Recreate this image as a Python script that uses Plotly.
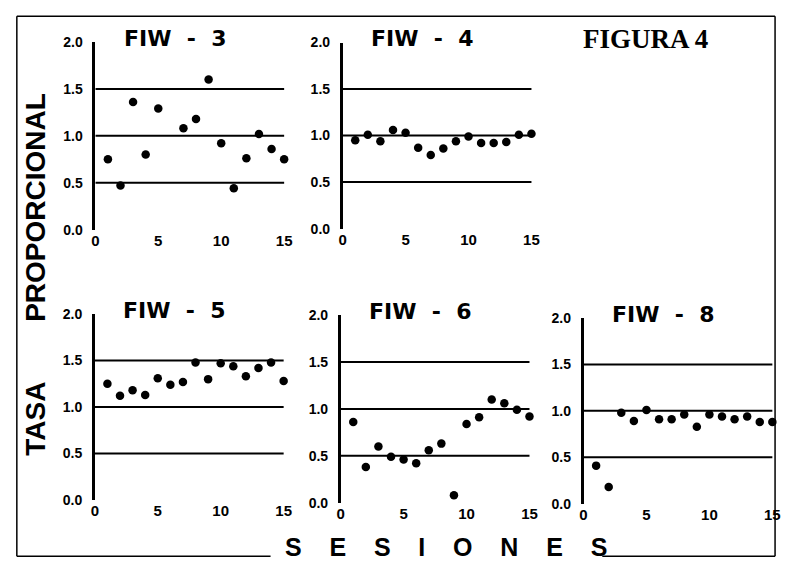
import plotly.graph_objects as go

W, H = 786, 570

# ---------------- data ----------------
panel_titles = ["FIW - 3", "FIW - 4", "FIW - 5", "FIW - 6", "FIW - 8"]

fiw3_x = [1, 2, 3, 4, 5, 7, 8, 9, 10, 11, 12, 13, 14, 15]
fiw3_y = [0.75, 0.47, 1.36, 0.80, 1.29, 1.08, 1.18, 1.60, 0.92, 0.44, 0.76, 1.02, 0.86, 0.75]

fiw4_x = list(range(1, 16))
fiw4_y = [0.95, 1.01, 0.94, 1.06, 1.03, 0.87, 0.79, 0.86, 0.94, 0.99, 0.92, 0.92, 0.93, 1.01, 1.02]

fiw5_x = list(range(1, 16))
fiw5_y = [1.25, 1.12, 1.18, 1.13, 1.31, 1.24, 1.27, 1.48, 1.30, 1.47, 1.44, 1.33, 1.42, 1.48, 1.28]

fiw6_x = list(range(1, 16))
fiw6_y = [0.86, 0.38, 0.60, 0.49, 0.46, 0.42, 0.56, 0.63, 0.08, 0.84, 0.91, 1.10, 1.06, 0.99, 0.92]

fiw8_x = list(range(1, 16))
fiw8_y = [0.41, 0.18, 0.98, 0.89, 1.01, 0.91, 0.91, 0.96, 0.83, 0.96, 0.94, 0.91, 0.94, 0.88, 0.88]

reference_levels = [0.5, 1.0, 1.5]
ref_x_start, ref_x_end = 0, 15

y_tickvals = [0.0, 0.5, 1.0, 1.5, 2.0]
y_ticktext = ["0.0", "0.5", "1.0", "1.5", "2.0"]
x_tickvals = [0, 5, 10, 15]
x_ticktext = ["0", "5", "10", "15"]

series_x = [fiw3_x, fiw4_x, fiw5_x, fiw6_x, fiw8_x]
series_y = [fiw3_y, fiw4_y, fiw5_y, fiw6_y, fiw8_y]

# ---------------- layout geometry (pixels) ----------------
XR = 15.2
PXU = 12.75
boxes = [
    (92.5, 35, 228),
    (343, 35.5, 227),
    (92, 315, 506),
    (341, 316, 509),
    (587, 319, 510),
]

def px(x):
    return x / W

def py(y):
    return 1 - y / H

FONT = "Liberation Sans"
TFONT = "DejaVu Sans"
fig = go.Figure()
layout = dict(
    width=W, height=H,
    margin=dict(l=0, r=0, t=0, b=0),
    paper_bgcolor="white", plot_bgcolor="white",
    showlegend=False,
)
shapes = []
annotations = []

for i, (x0, ytop, ybot) in enumerate(boxes):
    n = "" if i == 0 else str(i + 1)
    xa, ya = "x" + n, "y" + n
    xk, yk = "xaxis" + n, "yaxis" + n
    layout[xk] = dict(
        domain=[px(x0), min(1.0, px(x0 + XR * PXU))],
        range=[0, XR], anchor=ya,
        showline=False, showgrid=False, zeroline=False, ticks="",
        tickvals=x_tickvals, ticktext=x_ticktext,
        tickfont=dict(family=FONT, size=15, color="black", weight="bold"),
    )
    layout[yk] = dict(
        domain=[py(ybot), py(ytop)],
        range=[0, 2.0], anchor=xa,
        showline=True, linecolor="black", linewidth=2.5,
        showgrid=False, zeroline=False, ticks="",
        tickvals=y_tickvals, ticktext=y_ticktext,
        ticklabelstandoff=7,
        tickfont=dict(family=FONT, size=14, color="black", weight="bold"),
    )
    for lv in reference_levels:
        shapes.append(dict(type="line", xref=xa, yref=ya,
                           x0=ref_x_start, x1=ref_x_end, y0=lv, y1=lv,
                           line=dict(color="black", width=2)))
    fig.add_trace(go.Scatter(
        x=series_x[i], y=series_y[i], mode="markers",
        marker=dict(color="black", size=8.5),
        xaxis=xa, yaxis=ya, cliponaxis=False, hoverinfo="skip",
    ))
    title = panel_titles[i].replace(" - ", " \u00a0-\u00a0 ")
    annotations.append(dict(
        text="<b>" + title + "</b>", xref="paper", yref="paper",
        x=px(x0 + 81), y=py(ytop - 4), xanchor="center", yanchor="middle",
        showarrow=False, font=dict(family=TFONT, size=22, color="black"),
    ))

# figure labels
annotations.append(dict(
    text="<b>FIGURA 4</b>", xref="paper", yref="paper",
    x=px(650), y=py(32), xanchor="center", yanchor="middle", showarrow=False,
    font=dict(family="Liberation Serif", size=27, color="black"),
))
annotations.append(dict(
    text="<b>PROPORCIONAL</b>",
    xref="paper", yref="paper", x=px(32), y=py(205), xanchor="center", yanchor="middle",
    textangle=-90, showarrow=False,
    font=dict(family=FONT, size=28, color="black"),
))
annotations.append(dict(
    text="<b>TASA</b>",
    xref="paper", yref="paper", x=px(32), y=py(423), xanchor="center", yanchor="middle",
    textangle=-90, showarrow=False,
    font=dict(family=FONT, size=28, color="black"),
))
sp = "\u00a0" * 4
annotations.append(dict(
    text="<b>" + sp.join(list("SESIONES")) + "</b>",
    xref="paper", yref="paper", x=px(448), y=py(555), xanchor="center", yanchor="middle",
    showarrow=False, font=dict(family=FONT, size=25, color="black"),
))

# frame
fl = dict(color="black", width=1.5)
for (a, b, c, d) in [(13, 8.5, 781, 8.5), (13, 8.5, 13, 564), (781, 8.5, 781, 564),
                     (13, 564, 270, 564), (606, 564, 781, 564)]:
    shapes.append(dict(type="line", xref="paper", yref="paper",
                       x0=px(a), y0=py(b), x1=px(c), y1=py(d), line=fl))

layout["shapes"] = shapes
layout["annotations"] = annotations
fig.update_layout(**layout)
fig.write_html(
    "out.html",
    config={"displayModeBar": False},
    post_script="document.body.style.margin='0';document.body.style.overflow='hidden';",
)
